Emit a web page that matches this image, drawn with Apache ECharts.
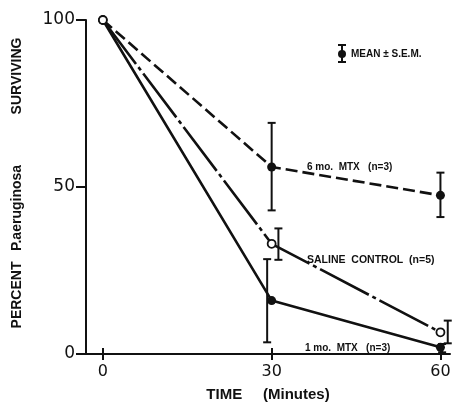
<!DOCTYPE html>
<html><head><meta charset="utf-8">
<script src="https://cdn.jsdelivr.net/npm/echarts@6/dist/echarts.min.js"></script>
<style>html,body{margin:0;padding:0;background:#fff}#c{width:455px;height:407px}</style>
</head><body><div id="c"></div>
<script>
// ---- data ----
var times = [0, 30, 60];
var mtx6 = [100, 56, 47.5];
var saline = [100, 33, 6.5];
var mtx1 = [100, 16, 2];
// error bars (x position drawn, low, high)
var err6X = [30, 60], err6Low = [43, 41], err6High = [69.2, 54.3];
var errSX = [31.2, 61.3], errSLow = [28.2, 3.2], errSHigh = [37.6, 10];
var err1X = [29.2, 60.3], err1Low = [3.5, 0.5], err1High = [28.4, 3];
var xTicks = [0, 30, 60];
var yTicks = [0, 50, 100];

var INK = '#111';
var FONT = '"Liberation Sans", Arial, sans-serif';
var NUMFONT = '"DejaVu Sans", sans-serif';

function pairs(xs, ys) { return xs.map(function (x, i) { return [x, ys[i]]; }); }
function errData(xs, lo, hi) { return xs.map(function (x, i) { return [x, lo[i], hi[i]]; }); }

function errSeries(data) {
  return {
    type: 'custom', z: 3, silent: true,
    data: data,
    renderItem: function (params, api) {
      var top = api.coord([api.value(0), api.value(2)]);
      var bot = api.coord([api.value(0), api.value(1)]);
      var w = 4;
      var st = { stroke: INK, lineWidth: 2, fill: null };
      return { type: 'group', children: [
        { type: 'line', shape: { x1: top[0], y1: top[1], x2: bot[0], y2: bot[1] }, style: st },
        { type: 'line', shape: { x1: top[0] - w, y1: top[1], x2: top[0] + w, y2: top[1] }, style: st },
        { type: 'line', shape: { x1: bot[0] - w, y1: bot[1], x2: bot[0] + w, y2: bot[1] }, style: st }
      ]};
    }
  };
}

var chart = echarts.init(document.getElementById('c'), null, { renderer: 'canvas' });
chart.setOption({
  backgroundColor: '#fff',
  animation: false,
  grid: { left: 86, right: 5, top: 20, bottom: 47.5, containLabel: false },
  xAxis: [{
    type: 'value', min: -3, max: 61.7,
    axisLine: { show: true, onZero: false, lineStyle: { color: INK, width: 2 } },
    axisTick: { show: true, length: 6, customValues: xTicks, lineStyle: { color: INK, width: 2 } },
    axisLabel: { show: true, customValues: xTicks, color: INK, fontFamily: NUMFONT, fontSize: 16, margin: 10 },
    splitLine: { show: false },
    name: 'TIME     (Minutes)', nameLocation: 'middle', nameGap: 33,
    nameTextStyle: { color: INK, fontFamily: FONT, fontSize: 15, fontWeight: 'bold' }
  }, {
    type: 'value', min: -3, max: 61.7, position: 'bottom',
    axisLine: { show: false, onZero: false },
    axisTick: { show: true, inside: true, length: 6, customValues: xTicks, lineStyle: { color: INK, width: 2 } },
    axisLabel: { show: false }, splitLine: { show: false }
  }],
  yAxis: {
    type: 'value', min: 0, max: 100,
    axisLine: { show: true, onZero: false, lineStyle: { color: INK, width: 2 } },
    axisTick: { show: true, length: 10, customValues: yTicks, lineStyle: { color: INK, width: 2 } },
    axisLabel: { show: true, customValues: yTicks, color: INK, fontFamily: NUMFONT, fontSize: 17, margin: 11 },
    splitLine: { show: false }
  },
  series: [
    {
      type: 'line', name: '6 mo. MTX', data: pairs(times, mtx6), z: 4,
      symbol: 'circle', symbolSize: 9, showAllSymbol: true,
      lineStyle: { color: INK, width: 2.6, type: [12, 5] },
      itemStyle: { color: INK, borderColor: INK, borderWidth: 0 }
    },
    {
      type: 'line', name: '1 mo. MTX', data: pairs(times, mtx1), z: 4,
      symbol: 'circle', symbolSize: 9,
      lineStyle: { color: INK, width: 2.6 },
      itemStyle: { color: INK, borderColor: INK, borderWidth: 0 }
    },
    {
      type: 'line', name: 'Saline control', data: pairs(times, saline), z: 5,
      symbol: 'circle', symbolSize: 8,
      lineStyle: { color: INK, width: 2.6, type: [55, 4, 4, 4] },
      itemStyle: { color: '#fff', borderColor: INK, borderWidth: 1.8 }
    },
    errSeries(errData(err6X, err6Low, err6High)),
    errSeries(errData(errSX, errSLow, errSHigh)),
    errSeries(errData(err1X, err1Low, err1High))
  ],
  graphic: [
    { type: 'text', x: 17, y: 295, rotation: Math.PI / 2, style: { text: 'PERCENT', fill: INK, font: 'bold 14px ' + FONT, textAlign: 'center', textVerticalAlign: 'middle' } },
    { type: 'text', x: 17, y: 208, rotation: Math.PI / 2, style: { text: 'P.aeruginosa', fill: INK, font: 'bold 14px ' + FONT, textAlign: 'center', textVerticalAlign: 'middle' } },
    { type: 'text', x: 17, y: 76, rotation: Math.PI / 2, style: { text: 'SURVIVING', fill: INK, font: 'bold 14px ' + FONT, textAlign: 'center', textVerticalAlign: 'middle' } },
    { type: 'text', x: 307, y: 167, style: { text: '6 mo.  MTX   (n=3)', fill: INK, font: 'bold 10px ' + FONT, textVerticalAlign: 'middle' } },
    { type: 'text', x: 307, y: 260, style: { text: 'SALINE  CONTROL  (n=5)', fill: INK, font: 'bold 10.5px ' + FONT, textVerticalAlign: 'middle' } },
    { type: 'text', x: 305, y: 348, style: { text: '1 mo.  MTX   (n=3)', fill: INK, font: 'bold 10px ' + FONT, textVerticalAlign: 'middle' } },
    { type: 'text', x: 351, y: 54, style: { text: 'MEAN ± S.E.M.', fill: INK, font: 'bold 10px ' + FONT, textVerticalAlign: 'middle' } },
    { type: 'line', shape: { x1: 342, y1: 45, x2: 342, y2: 62 }, style: { stroke: INK, lineWidth: 2 } },
    { type: 'line', shape: { x1: 338, y1: 45, x2: 346, y2: 45 }, style: { stroke: INK, lineWidth: 2 } },
    { type: 'line', shape: { x1: 338, y1: 62, x2: 346, y2: 62 }, style: { stroke: INK, lineWidth: 2 } },
    { type: 'circle', shape: { cx: 342, cy: 54, r: 4 }, style: { fill: INK } }
  ]
});
</script></body></html>
